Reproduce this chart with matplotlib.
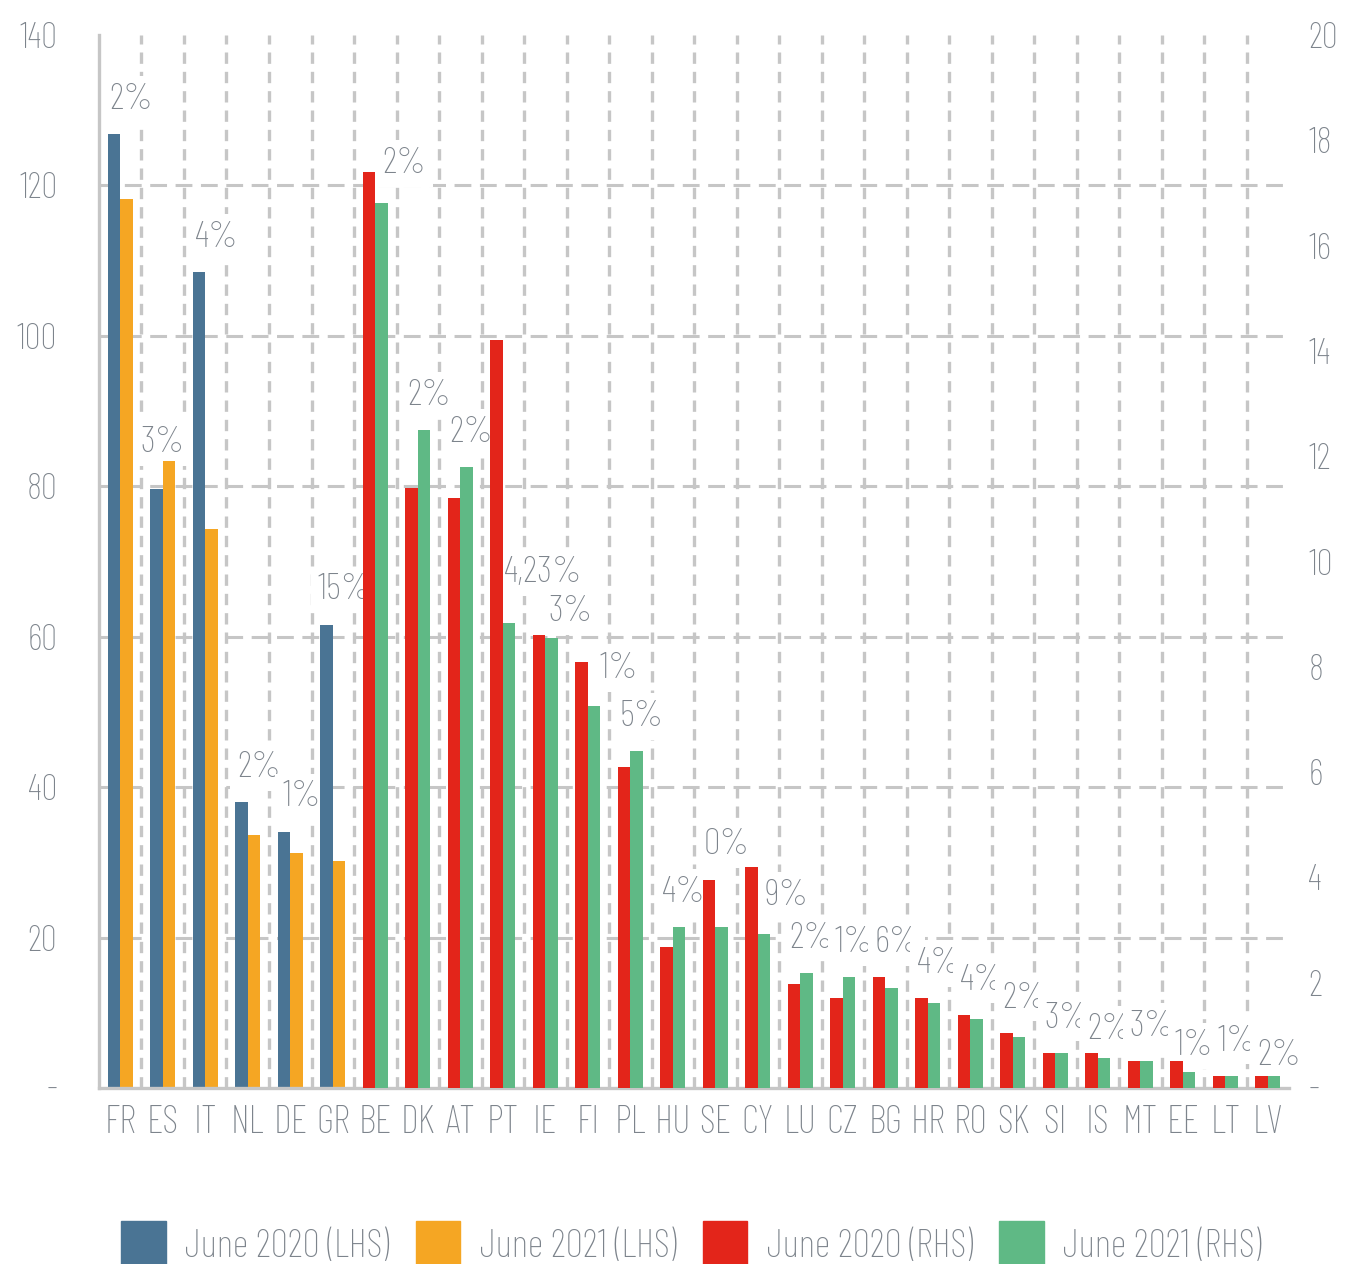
import numpy as np
import matplotlib.pyplot as plt
from matplotlib.patches import Patch

plt.rcParams['font.family'] = ['Barlow Condensed', 'DejaVu Sans']
plt.rcParams['font.weight'] = 'light'

# Data
countries = ["FR", "ES", "IT", "NL", "DE", "GR", "BE", "DK", "AT", "PT", "IE", "FI", "PL", "HU",
             "SE", "CY", "LU", "CZ", "BG", "HR", "RO", "SK", "SI", "IS", "MT", "EE", "LT", "LV"]
lhs_2020 = [126.8, 79.6, 108.5, 38.0, 34.1, 61.6]
lhs_2021 = [118.2, 83.4, 74.3, 33.6, 31.3, 30.2]
rhs_2020 = [17.4, 11.4, 11.2, 14.2, 8.6, 8.1, 6.1, 2.67, 3.96, 4.19, 1.98, 1.71,
            2.1, 1.71, 1.39, 1.05, 0.67, 0.67, 0.51, 0.51, 0.23, 0.23]
rhs_2021 = [16.8, 12.5, 11.8, 8.84, 8.55, 7.26, 6.4, 3.05, 3.05, 2.93, 2.19, 2.1,
            1.9, 1.62, 1.31, 0.97, 0.67, 0.57, 0.51, 0.3, 0.23, 0.23]
pct_labels = ["2%", "3%", "4%", "2%", "1%", "15%", "2%", "2%", "2%", "4,23%", "3%", "1%", "5%", "4%",
              "0%", "9%", "2%", "1%", "6%", "4%", "4%", "2%", "3%", "2%", "3%", "1%", "1%", "2%"]

c_blue = "#4a7494"
c_orange = "#f5a623"
c_red = "#e3251a"
c_green = "#5fb985"
grid_c = "#c6c6c6"
txt_c = "#7d848c"

# label nudges in points (x, y) where Excel moved the label away from the default spot
nudge = {"ES": (-8, -12), "BE": (13, -19), "PT": (21, -192), "FI": (14, -30),
         "CY": (13, -45), "IE": (10, -8), "IS": (0, -8), "EE": (0, -14), "LV": (0, -10)}

n_lhs = len(lhs_2020)
x = np.arange(len(countries))
w = 0.29

fig = plt.figure(figsize=(13.45, 12.64), dpi=100)
ax = fig.add_axes([0.0736, 0.1392, 0.8848, 0.8331])
ax2 = ax.twinx()

ax.bar(x[:n_lhs] - w / 2, lhs_2020, w, color=c_blue, zorder=2)
ax.bar(x[:n_lhs] + w / 2, lhs_2021, w, color=c_orange, zorder=2)
ax2.bar(x[n_lhs:] - w / 2, rhs_2020, w, color=c_red, zorder=2)
ax2.bar(x[n_lhs:] + w / 2, rhs_2021, w, color=c_green, zorder=2)

ax.set_xlim(-0.5, len(countries) - 0.5)
ax.set_ylim(0, 140)
ax2.set_ylim(0, 20)

ax.set_yticks(range(0, 141, 20))
ax.set_yticklabels(["-"] + [str(v) for v in range(20, 141, 20)])
ax2.set_yticks(range(0, 21, 2))
ax2.set_yticklabels(["-"] + [str(v) for v in range(2, 21, 2)])
ax.set_xticks(x)
ax.set_xticklabels(countries)
ax.set_xticks(x[:-1] + 0.5, minor=True)

ax.tick_params(axis="y", length=0, pad=30, labelsize=26, labelcolor=txt_c)
ax2.tick_params(axis="y", length=0, pad=14, labelsize=26, labelcolor=txt_c)
ax.tick_params(axis="x", which="both", length=0, pad=12, labelsize=28, labelcolor=txt_c)

# grid
ax.set_axisbelow(True)
ax.yaxis.grid(True, color=grid_c, lw=2.2, linestyle=(0, (5.5, 2.8)))
ax.xaxis.grid(True, which="minor", color=grid_c, lw=2.4, linestyle=(0, (3.4, 2.4)))
gl = ax.get_ygridlines()
gl[0].set_visible(False)
gl[-1].set_visible(False)

for s in ["top", "right"]:
    ax.spines[s].set_visible(False)
    ax2.spines[s].set_visible(False)
ax2.spines["left"].set_visible(False)
ax2.spines["bottom"].set_visible(False)
ax.spines["left"].set_color(grid_c)
ax.spines["left"].set_linewidth(2.4)
ax.spines["bottom"].set_color(grid_c)
ax.spines["bottom"].set_linewidth(2.4)

# percentage labels (white boxes hide the grid, but sit under the bars)
for i, lab in enumerate(pct_labels):
    if i < n_lhs:
        a, top = ax, max(lhs_2020[i], lhs_2021[i])
    else:
        a, top = ax2, max(rhs_2020[i - n_lhs], rhs_2021[i - n_lhs])
    dx, dy = nudge.get(countries[i], (0, 0))
    a.annotate(lab, (x[i], top), xytext=(8 + dx, 25 + dy), textcoords="offset points",
               ha="center", va="center", fontsize=27, color=txt_c, zorder=1.5,
               bbox=dict(boxstyle="square,pad=0.18", fc="white", ec="none"))

handles = [Patch(color=c_blue), Patch(color=c_orange), Patch(color=c_red), Patch(color=c_green)]
names = ["June 2020 (LHS)", "June 2021 (LHS)", "June 2020 (RHS)", "June 2021 (RHS)"]
leg = fig.legend(handles, names, loc="center", bbox_to_anchor=(0.514, 0.0155), ncol=4,
                 frameon=False, fontsize=28, handlelength=1.15, handleheight=1.45,
                 handletextpad=0.5, columnspacing=0.68)
for t in leg.get_texts():
    t.set_color(txt_c)

fig.savefig("out.png", dpi=100)
